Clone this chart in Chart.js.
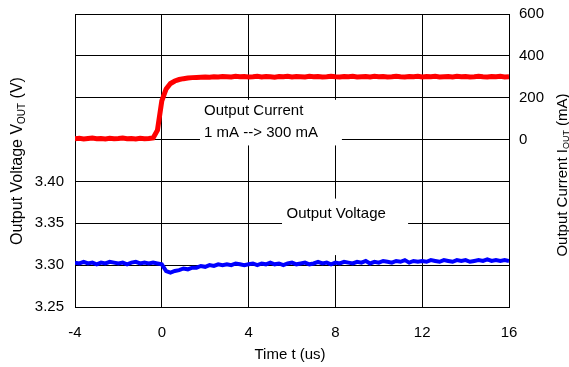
<!DOCTYPE html>
<html>
<head>
<meta charset="utf-8">
<script src="https://cdn.jsdelivr.net/npm/chart.js@4"></script>
<style>
  html, body { margin: 0; padding: 0; background: #fff; }
  #wrap { width: 569px; height: 367px; }
</style>
</head>
<body>
<div id="wrap"><canvas id="chart" width="569" height="367"></canvas></div>
<script>
// ─── Data ──────────────────────────────────────────

const timeUs = [
  -4.0, -3.8, -3.6, -3.4, -3.2, -3.0, -2.8, -2.6, -2.4, -2.2,
  -2.0, -1.8, -1.6, -1.4, -1.2, -1.0, -0.8, -0.6, -0.4, -0.2,
  0.0, 0.2, 0.4, 0.6, 0.8, 1.0, 1.2, 1.4, 1.6, 1.8,
  2.0, 2.2, 2.4, 2.6, 2.8, 3.0, 3.2, 3.4, 3.6, 3.8,
  4.0, 4.2, 4.4, 4.6, 4.8, 5.0, 5.2, 5.4, 5.6, 5.8,
  6.0, 6.2, 6.4, 6.6, 6.8, 7.0, 7.2, 7.4, 7.6, 7.8,
  8.0, 8.2, 8.4, 8.6, 8.8, 9.0, 9.2, 9.4, 9.6, 9.8,
  10.0, 10.2, 10.4, 10.6, 10.8, 11.0, 11.2, 11.4, 11.6, 11.8,
  12.0, 12.2, 12.4, 12.6, 12.8, 13.0, 13.2, 13.4, 13.6, 13.8,
  14.0, 14.2, 14.4, 14.6, 14.8, 15.0, 15.2, 15.4, 15.6, 15.8,
  16.0,
];

// output current, mA
const currentMa = [
  4, 6, 3, 5, 7, 4, 5, 3, 6, 4,
  5, 7, 4, 5, 3, 6, 4, 5, 8, 45,
  185, 242, 268, 280, 287, 291, 294, 296, 297, 298,
  299, 298, 300, 299, 301, 300, 299, 302, 300, 301,
  299, 300, 302, 299, 301, 300, 298, 301, 300, 302,
  299, 301, 300, 299, 302, 300, 301, 299, 300, 302,
  300, 299, 301, 300, 302, 299, 300, 301, 299, 302,
  300, 301, 299, 300, 302, 300, 299, 301, 300, 302,
  299, 301, 300, 302, 299, 300, 301, 299, 302, 300,
  301, 299, 300, 302, 300, 299, 301, 300, 302, 299,
  300,
];

// output voltage, V
const voltageV = [
  3.303, 3.302, 3.304, 3.302, 3.303, 3.301, 3.303, 3.302, 3.304, 3.303,
  3.302, 3.303, 3.301, 3.303, 3.304, 3.302, 3.303, 3.302, 3.303, 3.302,
  3.301, 3.293, 3.291, 3.293, 3.294, 3.296, 3.295, 3.297, 3.297, 3.299,
  3.298, 3.300, 3.299, 3.301, 3.300, 3.301, 3.300, 3.302, 3.301, 3.300,
  3.301, 3.302, 3.300, 3.302, 3.301, 3.303, 3.301, 3.302, 3.300, 3.302,
  3.303, 3.301, 3.302, 3.303, 3.301, 3.302, 3.304, 3.302, 3.303, 3.301,
  3.303, 3.302, 3.304, 3.303, 3.302, 3.304, 3.303, 3.305, 3.302, 3.304,
  3.303, 3.305, 3.304, 3.303, 3.305, 3.304, 3.306, 3.303, 3.305, 3.304,
  3.305, 3.304, 3.306, 3.305, 3.304, 3.306, 3.305, 3.304, 3.306, 3.305,
  3.306, 3.304, 3.305, 3.306, 3.305, 3.307, 3.305, 3.306, 3.305, 3.306,
  3.305,
];

const xTicks = [-4, 0, 4, 8, 12, 16];
const voltTicks = [3.25, 3.30, 3.35, 3.40];
const currentTicks = [0, 200, 400, 600];

const currentNote = ['Output Current', '1 mA --> 300 mA'];
const voltageNote = 'Output Voltage';

// ─── Helpers ───────────────────────────────────────

const FONT = '"Liberation Sans", Arial, sans-serif';

function toPoints(ys) {
  return timeUs.map((t, i) => ({ x: t, y: ys[i] }));
}

// force axis size, drop the label overhang padding so the plot box lands where it should
function fixSize(w, h) {
  return (scale) => {
    if (w != null) scale.width = w;
    if (h != null) scale.height = h;
    scale.paddingTop = 0;
    scale.paddingBottom = 0;
    scale.paddingLeft = 0;
    scale.paddingRight = 0;
  };
}

// title with a subscript, drawn rotated bottom-to-top
function drawRotatedTitle(ctx, cx, cy, parts) {
  ctx.save();
  ctx.translate(cx, cy);
  ctx.rotate(-Math.PI / 2);
  let total = 0;
  parts.forEach((p) => {
    ctx.font = `${p.size}px ${FONT}`;
    total += ctx.measureText(p.text).width;
  });
  let x = -total / 2;
  ctx.textBaseline = 'middle';
  ctx.textAlign = 'left';
  ctx.fillStyle = '#000';
  parts.forEach((p) => {
    ctx.font = `${p.size}px ${FONT}`;
    ctx.fillText(p.text, x, p.dy || 0);
    x += ctx.measureText(p.text).width;
  });
  ctx.restore();
}

const notesPlugin = {
  id: 'notes',
  beforeDatasetsDraw(chart) {
    const { ctx } = chart;
    const xs = chart.scales.x;
    const ys = chart.scales.y;

    // white boxes that hide the grid under the notes
    ctx.save();
    ctx.fillStyle = '#fff';
    const box = (x0, x1, y0, y1) => {
      const l = xs.getPixelForValue(x0), r = xs.getPixelForValue(x1);
      const t = ys.getPixelForValue(y1), b = ys.getPixelForValue(y0);
      ctx.fillRect(l, t, r - l, b - t);
    };
    box(1.76, 8.3, 3.443, 3.4975);
    box(5.54, 11.35, 3.312, 3.3795);

    ctx.fillStyle = '#000';
    ctx.font = `15px ${FONT}`;
    ctx.textBaseline = 'middle';
    ctx.textAlign = 'left';
    ctx.fillText(currentNote[0], xs.getPixelForValue(1.95), ys.getPixelForValue(3.4845));
    ctx.fillText(currentNote[1], xs.getPixelForValue(1.95), ys.getPixelForValue(3.4575));
    ctx.fillText(voltageNote, xs.getPixelForValue(5.75), ys.getPixelForValue(3.361));
    ctx.restore();
  },
  afterDraw(chart) {
    const { ctx } = chart;
    drawRotatedTitle(ctx, 18, 161, [
      { text: 'Output Voltage V', size: 16 },
      { text: 'OUT', size: 10, dy: 4 },
      { text: ' (V)', size: 16 },
    ]);
    drawRotatedTitle(ctx, 563, 175, [
      { text: 'Output Current I', size: 15 },
      { text: 'OUT', size: 9, dy: 4 },
      { text: ' (mA)', size: 15 },
    ]);
    ctx.save();
    ctx.fillStyle = '#000';
    ctx.font = `15px ${FONT}`;
    ctx.textAlign = 'center';
    ctx.textBaseline = 'middle';
    ctx.fillText('Time t (us)', 290, 355);
    ctx.restore();
  },
};

// ─── Chart ─────────────────────────────────────────

const tickFont = { family: FONT, size: 15 };
const gridStyle = { color: '#000', lineWidth: 1, drawTicks: false };

new Chart(document.getElementById('chart'), {
  type: 'line',
  data: {
    datasets: [
      {
        label: 'Output Current',
        data: toPoints(currentMa),
        yAxisID: 'y2',
        borderColor: '#ff0000',
        borderWidth: 5,
        pointRadius: 0,
        tension: 0,
      },
      {
        label: 'Output Voltage',
        data: toPoints(voltageV),
        yAxisID: 'y',
        borderColor: '#0000ff',
        borderWidth: 4,
        pointRadius: 0,
        tension: 0,
      },
    ],
  },
  options: {
    responsive: false,
    animation: false,
    layout: { padding: { top: 14, left: 0, right: 0, bottom: 0 } },
    plugins: { legend: { display: false }, tooltip: { enabled: false } },
    scales: {
      x: {
        type: 'linear',
        min: -4,
        max: 16,
        afterFit: fixSize(null, 60),
        afterBuildTicks: (s) => { s.ticks = xTicks.map((v) => ({ value: v })); },
        ticks: { color: '#000', font: tickFont, padding: 17 },
        grid: gridStyle,
        border: { color: '#000', width: 1 },
      },
      y: {
        position: 'left',
        min: 3.25,
        max: 3.6,
        afterFit: fixSize(75, null),
        afterBuildTicks: (s) => {
          s.ticks = [3.25, 3.3, 3.35, 3.4, 3.45, 3.5, 3.55, 3.6].map((v) => ({ value: v }));
        },
        ticks: {
          color: '#000',
          font: tickFont,
          padding: 11,
          callback: (v) => {
            const hit = voltTicks.find((t) => Math.abs(t - v) < 1e-6);
            return hit !== undefined ? hit.toFixed(2) : '';
          },
        },
        grid: gridStyle,
        border: { color: '#000', width: 1 },
      },
      y2: {
        position: 'right',
        min: -800,
        max: 600,
        afterFit: fixSize(60, null),
        afterBuildTicks: (s) => {
          s.ticks = [-800, -600, -400, -200, 0, 200, 400, 600].map((v) => ({ value: v }));
        },
        ticks: {
          color: '#000',
          font: tickFont,
          padding: 10,
          callback: (v) => (currentTicks.includes(v) ? String(v) : ''),
        },
        grid: { display: false, drawTicks: false },
        border: { color: '#000', width: 1 },
      },
    },
  },
  plugins: [notesPlugin],
});
</script>
</body>
</html>
